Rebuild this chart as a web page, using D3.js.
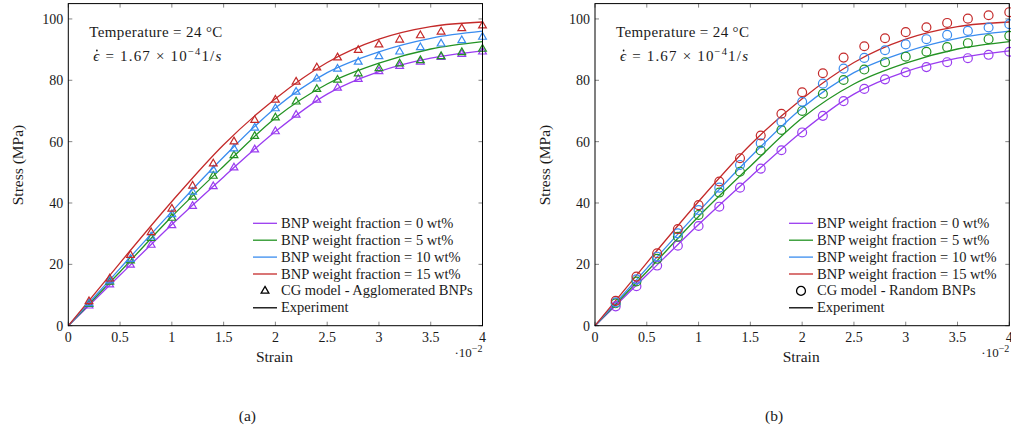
<!DOCTYPE html>
<html>
<head>
<meta charset="utf-8">
<script src="https://cdn.jsdelivr.net/npm/d3@7"></script>
<style>
  body { margin: 0; background: #fff; }
</style>
</head>
<body>
<div id="chart"></div>
<script>
// Experiment curves (same in both panels)
const expStrain = [0, 0.5, 1, 1.5, 2, 2.5, 3, 3.5, 4];
const exp0 = [0, 16.5, 33, 48.5, 63.3, 75.5, 82.8, 87.2, 89.6];
const exp5 = [0, 17.6, 35.6, 52, 67.7, 78.8, 85.6, 90.2, 92.6];
const exp10 = [0, 18.7, 37.2, 55, 71, 82.5, 89.3, 93.7, 96];
const exp15 = [0, 20.5, 40.5, 59, 74, 85.8, 93.4, 97.5, 99];

// CG model points
const cgStrain = [0.2, 0.4, 0.6, 0.8, 1.0, 1.2, 1.4, 1.6, 1.8, 2.0, 2.2, 2.4, 2.6, 2.8, 3.0, 3.2, 3.4, 3.6, 3.8, 4.0];
// (a) agglomerated BNPs
const agg0 = [6.5, 13.4, 19.8, 26.3, 32.7, 39.0, 45.4, 51.5, 57.4, 63.3, 68.7, 73.6, 77.5, 80.4, 82.9, 84.6, 86.0, 87.5, 88.5, 89.3];
const agg5 = [7.0, 14.3, 21.2, 28.5, 35.1, 42.0, 48.8, 55.5, 61.8, 67.8, 73.0, 77.1, 80.1, 82.2, 83.9, 85.4, 86.5, 87.8, 89.1, 90.2];
const agg10 = [7.3, 14.7, 21.7, 29.0, 36.3, 43.6, 50.8, 57.7, 64.5, 70.8, 76.2, 80.5, 83.7, 86.0, 87.8, 89.3, 90.7, 91.9, 93.0, 94.1];
const agg15 = [7.9, 15.3, 23.0, 30.4, 38.1, 45.6, 52.8, 60.0, 67.0, 73.6, 79.5, 84.1, 87.4, 89.8, 91.6, 93.2, 94.6, 95.8, 96.9, 97.8];
// (b) random BNPs
const rnd0 = [6.3, 12.9, 19.6, 26.1, 32.5, 38.8, 45.0, 51.2, 57.2, 63.0, 68.4, 73.2, 77.2, 80.3, 82.6, 84.3, 85.9, 87.2, 88.3, 89.3];
const rnd5 = [7.3, 14.4, 21.8, 29.0, 36.1, 43.4, 50.2, 57.1, 63.8, 70.0, 75.6, 80.1, 83.5, 85.9, 87.7, 89.3, 90.8, 92.1, 93.4, 94.5];
const rnd10 = [7.6, 15.1, 22.5, 30.1, 37.7, 45.0, 52.4, 59.5, 66.5, 73.0, 78.9, 83.8, 87.3, 89.8, 91.7, 93.4, 94.8, 96.1, 97.2, 98.3];
const rnd15 = [8.1, 16.0, 23.6, 31.5, 39.3, 47.0, 54.6, 62.0, 69.1, 76.1, 82.3, 87.4, 91.1, 93.7, 95.7, 97.3, 98.7, 100.1, 101.2, 102.2];

const seriesLabels = ["BNP weight fraction = 0 wt%", "BNP weight fraction = 5 wt%",
  "BNP weight fraction = 10 wt%", "BNP weight fraction = 15 wt%"];
const colors = ["#9a3cf0", "#239323", "#3a8cef", "#c42a2a"];
const xTicks = [0, 0.5, 1, 1.5, 2, 2.5, 3, 3.5, 4];
const yTicks = [0, 20, 40, 60, 80, 100];

const width = 1011, height = 433;
const svg = d3.select("#chart").append("svg")
  .attr("width", width)
  .attr("height", height)
  .attr("font-family", "'Liberation Serif', 'DejaVu Serif', serif")
  .style("font-family", "'Liberation Serif', 'DejaVu Serif', serif")
  .attr("fill", "#1a1a1a");

function drawPanel(left, right, legendX, expData, cgData, markerType, cgLabel, caption) {
  const x = d3.scaleLinear().domain([0, 4]).range([left, right]);
  const y = d3.scaleLinear().domain([0, 105]).range([325.7, 3.6]);
  const g = svg.append("g");

  // ticks (inside, on all four sides)
  const tick = 4;
  g.selectAll(".xt").data(xTicks).enter().append("path")
    .attr("d", d => `M${x(d)},${y(0)}v${-tick}M${x(d)},${y(105)}v${tick}`)
    .attr("stroke", "#666").attr("stroke-width", 0.8);
  g.selectAll(".yt").data(yTicks).enter().append("path")
    .attr("d", d => `M${left},${y(d)}h${tick}M${right},${y(d)}h${-tick}`)
    .attr("stroke", "#666").attr("stroke-width", 0.8);

  g.selectAll(".xl").data(xTicks).enter().append("text")
    .attr("x", d => x(d)).attr("y", 342)
    .attr("text-anchor", "middle").style("font-size", "14px")
    .text(d => d3.format("")(d));
  g.selectAll(".yl").data(yTicks).enter().append("text")
    .attr("x", left - 5).attr("y", d => y(d) + 5)
    .attr("text-anchor", "end").style("font-size", "14px")
    .text(d => d);

  // experiment lines
  const line = d3.line()
    .x((d, i) => x(expStrain[i]))
    .y(d => y(d))
    .curve(d3.curveMonotoneX);
  expData.forEach((s, k) => {
    g.append("path").datum(s)
      .attr("d", line)
      .attr("fill", "none")
      .attr("stroke", colors[k])
      .attr("stroke-width", 1.3);
  });

  // CG model markers
  const sym = markerType === "triangle"
    ? d3.symbol(d3.symbolTriangle, 26)
    : d3.symbol(d3.symbolCircle, 62);
  cgData.forEach((s, k) => {
    g.selectAll(null).data(s).enter().append("path")
      .attr("d", sym)
      .attr("transform", (d, i) => `translate(${x(cgStrain[i])},${y(d)})`)
      .attr("fill", "none")
      .attr("stroke", colors[k])
      .attr("stroke-width", 1.2);
  });

  // frame
  g.append("rect")
    .attr("x", left).attr("y", y(105))
    .attr("width", right - left).attr("height", y(0) - y(105))
    .attr("fill", "none").attr("stroke", "#000").attr("stroke-width", 1);

  // annotations
  g.append("text").attr("x", left + 21).attr("y", 37).style("font-size", "15px")
    .attr("textLength", 133).attr("lengthAdjust", "spacing")
    .text("Temperature = 24 °C");
  const ex = left + 25;
  const t2 = g.append("text").attr("x", ex).attr("y", 61).style("font-size", "15px")
    .attr("textLength", 128).attr("lengthAdjust", "spacing");
  t2.append("tspan").style("font-style", "italic").text("ϵ");
  t2.append("tspan").text(" = 1.67 × 10");
  t2.append("tspan").attr("dy", -6).style("font-size", "10.5px").text("−4");
  t2.append("tspan").attr("dy", 6).text("1/");
  t2.append("tspan").style("font-style", "italic").text("s");
  // dot over epsilon
  g.append("circle").attr("cx", ex + 3.6).attr("cy", 50.5).attr("r", 0.9).attr("fill", "#1a1a1a");

  // axis titles
  g.append("text")
    .attr("transform", `translate(${left - 45},${165}) rotate(-90)`)
    .attr("text-anchor", "middle").style("font-size", "15.5px")
    .text("Stress (MPa)");
  g.append("text")
    .attr("x", (left + right) / 2 - 1).attr("y", 362)
    .attr("text-anchor", "middle").style("font-size", "15.5px")
    .text("Strain");
  const sc = g.append("text").attr("x", right).attr("y", 357)
    .attr("text-anchor", "end").style("font-size", "13px");
  sc.append("tspan").text("·10");
  sc.append("tspan").attr("dy", -5).style("font-size", "10px").text("−2");

  // legend
  const lx = legendX, ly = 223.3, dy = 16.9;
  const legendRows = seriesLabels.map((t, k) => ({ t, c: colors[k], kind: "line" }))
    .concat([{ t: cgLabel, c: "#000", kind: "mark" }, { t: "Experiment", c: "#000", kind: "line" }]);
  legendRows.forEach((r, i) => {
    const yy = ly + i * dy;
    if (r.kind === "line") {
      g.append("line").attr("x1", lx).attr("x2", lx + 24).attr("y1", yy).attr("y2", yy)
        .attr("stroke", r.c).attr("stroke-width", 1.3);
    } else {
      g.append("path").attr("d", sym)
        .attr("transform", `translate(${lx + 12},${yy})`)
        .attr("fill", "none").attr("stroke", "#000").attr("stroke-width", 1.3);
    }
    g.append("text").attr("x", lx + 28).attr("y", yy + 4.5).style("font-size", "14.5px").text(r.t);
  });

  // caption
  g.append("text").attr("x", (left + right) / 2 - 28).attr("y", 421)
    .attr("text-anchor", "middle").style("font-size", "15.5px").text(caption);
}

drawPanel(68.3, 482.5, 253, [exp0, exp5, exp10, exp15], [agg0, agg5, agg10, agg15],
  "triangle", "CG model - Agglomerated BNPs", "(a)");
drawPanel(595, 1009.3, 789, [exp0, exp5, exp10, exp15], [rnd0, rnd5, rnd10, rnd15],
  "circle", "CG model - Random BNPs", "(b)");
</script>
</body>
</html>
